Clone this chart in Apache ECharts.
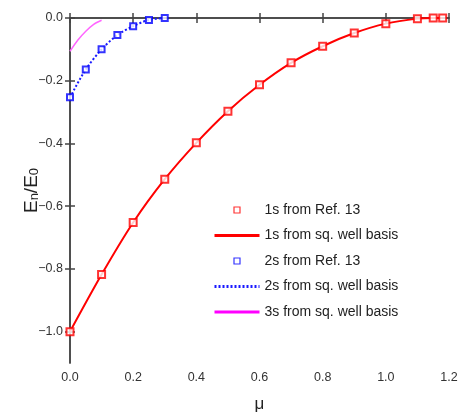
<!DOCTYPE html>
<html>
<head>
<meta charset="utf-8">
<script src="https://cdn.jsdelivr.net/npm/echarts@6/dist/echarts.min.js"></script>
<style>
  html, body { margin: 0; padding: 0; background: #fff; }
  #chart { width: 460px; height: 412px; }
</style>
</head>
<body>
<div id="chart"></div>
<script>
// values
const mu1s = [0, 0.1, 0.2, 0.3, 0.4, 0.5, 0.6, 0.7, 0.8, 0.9, 1.0, 1.1, 1.15, 1.18];
const ref1s = [-1.0, -0.818, -0.652, -0.514, -0.398, -0.297, -0.213, -0.143, -0.09, -0.048, -0.018, -0.002, 0, 0];
const well1s = [-1.0, -0.818, -0.652, -0.514, -0.398, -0.297, -0.213, -0.143, -0.09, -0.048, -0.018, -0.002, 0, 0];

const mu2s = [0, 0.05, 0.1, 0.15, 0.2, 0.25, 0.3];
const ref2s = [-0.253, -0.164, -0.1, -0.054, -0.026, -0.006, 0];
const well2s = [-0.253, -0.164, -0.1, -0.054, -0.026, -0.006, 0];

const mu3s = [0, 0.025, 0.05, 0.075, 0.1];
const well3s = [-0.106, -0.07, -0.042, -0.02, -0.007];

const yTicks = [-1.0, -0.8, -0.6, -0.4, -0.2, 0.0];
const legendNames = ['1s from Ref. 13', '1s from sq. well basis', '2s from Ref. 13', '2s from sq. well basis', '3s from sq. well basis'];

const pair = (xs, ys) => xs.map((x, i) => [x, ys[i]]);

const font = "'Liberation Sans', Arial, sans-serif";
const axisColor = '#444';
const squareIcon = 'path://M0,0H10V10H0Z';

const myChart = echarts.init(document.getElementById('chart'));
myChart.setOption({
  animation: false,
  grid: { left: 70, right: 11, top: 18, bottom: 49, outerBoundsMode: 'none' },
  legend: {
    orient: 'vertical',
    left: 208,
    top: 197,
    itemWidth: 45,
    itemHeight: 6,
    itemGap: 9.5,
    symbolKeepAspect: true,
    textStyle: { fontFamily: font, fontSize: 14, color: '#222', lineHeight: 16 },
    data: [
      { name: legendNames[0], icon: squareIcon, itemStyle: { color: '#fff', borderColor: '#ff0000', borderWidth: 1.2 } },
      { name: legendNames[1], lineStyle: { width: 3 }, itemStyle: { opacity: 0 } },
      { name: legendNames[2], icon: squareIcon, itemStyle: { color: '#fff', borderColor: '#0000ff', borderWidth: 1.2 } },
      { name: legendNames[3], lineStyle: { width: 3 }, itemStyle: { opacity: 0 } },
      { name: legendNames[4], lineStyle: { width: 3, color: '#ff00ff' }, itemStyle: { opacity: 0 } }
    ]
  },
  xAxis: [
    {
      type: 'value',
      min: 0,
      max: 1.2,
      interval: 0.2,
      name: 'μ',
      nameLocation: 'middle',
      nameGap: 33,
      nameMoveOverlap: false,
      nameTextStyle: { fontFamily: font, fontSize: 17, color: '#222' },
      axisLine: { lineStyle: { color: axisColor, width: 1.5 } },
      axisTick: { inside: true, length: 5, lineStyle: { color: axisColor, width: 1.5 } },
      axisLabel: { margin: 8, fontFamily: font, fontSize: 12.5, color: '#333', formatter: v => v.toFixed(1) },
      splitLine: { show: false }
    },
    {
      type: 'value',
      position: 'top',
      min: 0,
      max: 1.2,
      interval: 0.2,
      axisLine: { show: true, lineStyle: { color: axisColor, width: 1.5 } },
      axisTick: { show: true, inside: true, length: 5, lineStyle: { color: axisColor, width: 1.5 } },
      axisLabel: { show: false },
      splitLine: { show: false }
    }
  ],
  yAxis: [
    {
      type: 'value',
      min: -1.1,
      max: 0,
      name: '{a|E}{s|n}{a|/E}{s|0}',
      nameLocation: 'middle',
      nameRotate: 90,
      nameGap: 29,
      nameMoveOverlap: false,
      nameTextStyle: {
        fontFamily: font,
        color: '#222',
        rich: {
          a: { fontFamily: font, fontSize: 19, color: '#222', lineHeight: 22, verticalAlign: 'bottom' },
          s: { fontFamily: font, fontSize: 13, color: '#222', lineHeight: 14, verticalAlign: 'bottom', padding: [6, 0, 0, 0] }
        }
      },
      axisLine: { show: true, lineStyle: { color: axisColor, width: 1.5 } },
      axisTick: { show: true, inside: true, length: 5, customValues: yTicks, lineStyle: { color: axisColor, width: 1.5 } },
      axisLabel: {
        margin: 7,
        fontFamily: font,
        fontSize: 12.5,
        color: '#333',
        customValues: yTicks,
        formatter: v => (v < 0 ? '\u2212' : '') + Math.abs(v).toFixed(1)
      },
      splitLine: { show: false }
    },
    {
      type: 'value',
      position: 'right',
      min: -1.1,
      max: 0,
      axisLine: { show: true, lineStyle: { color: axisColor, width: 1.5 } },
      axisTick: { show: true, inside: true, length: 5, customValues: yTicks, lineStyle: { color: axisColor, width: 1.5 } },
      axisLabel: { show: false },
      splitLine: { show: false }
    }
  ],
  series: [
    {
      name: legendNames[1],
      type: 'line',
      data: pair(mu1s, well1s),
      smooth: 0.3,
      symbol: 'none',
      lineStyle: { color: '#ff0000', width: 2 },
      itemStyle: { color: '#ff0000' },
      z: 2
    },
    {
      name: legendNames[3],
      type: 'line',
      data: pair(mu2s, well2s),
      smooth: 0.3,
      symbol: 'none',
      lineStyle: { color: '#1a1aff', width: 2, type: [2, 2] },
      itemStyle: { color: '#1a1aff' },
      z: 2
    },
    {
      name: legendNames[4],
      type: 'line',
      data: pair(mu3s, well3s),
      smooth: 0.3,
      symbol: 'none',
      lineStyle: { color: '#ff66ff', width: 1.5 },
      itemStyle: { color: '#ff00ff' },
      z: 2
    },
    {
      name: legendNames[0],
      type: 'scatter',
      data: pair(mu1s, ref1s),
      symbol: 'emptyRect',
      symbolSize: 7,
      itemStyle: { color: '#ff0000', borderColor: '#ff0000', borderWidth: 1.2 },
      z: 3
    },
    {
      name: legendNames[2],
      type: 'scatter',
      data: pair(mu2s, ref2s),
      symbol: 'emptyRect',
      symbolSize: 6,
      itemStyle: { color: '#0000ff', borderColor: '#0000ff', borderWidth: 1.2 },
      z: 3
    }
  ]
});
</script>
</body>
</html>
